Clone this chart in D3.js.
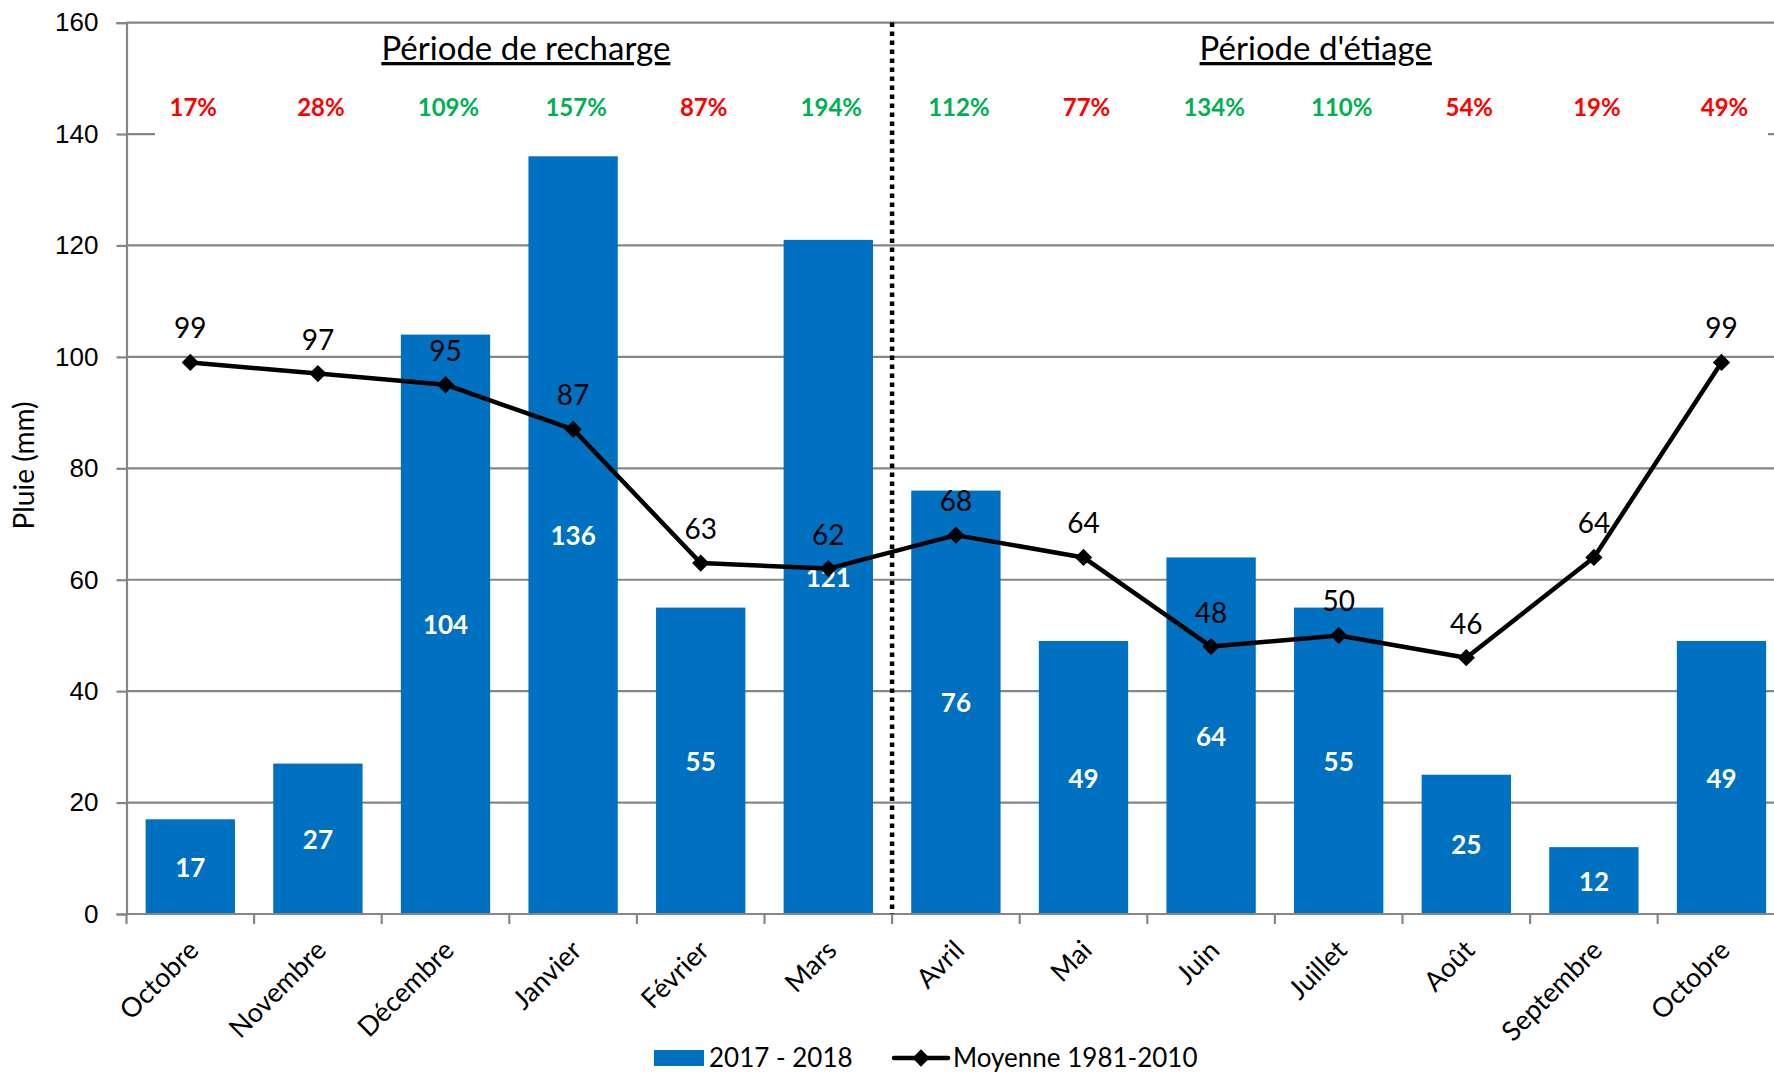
<!DOCTYPE html>
<html>
<head>
<meta charset="utf-8">
<script src="https://cdn.jsdelivr.net/npm/d3@7"></script>
<style>
body{margin:0;background:#fff;overflow:hidden;}
svg{display:block;font-family:Lato,"Open Sans",sans-serif;}
</style>
</head>
<body>
<svg id="chart" width="1774" height="1075"></svg>
<script>
var months = ["Octobre","Novembre","Décembre","Janvier","Février","Mars","Avril","Mai","Juin","Juillet","Août","Septembre","Octobre"];
var rain = [17,27,104,136,55,121,76,49,64,55,25,12,49];
var normal = [99,97,95,87,63,62,68,64,48,50,46,64,99];
var ratio = ["17%","28%","109%","157%","87%","194%","112%","77%","134%","110%","54%","19%","49%"];
var yTicks = [0,20,40,60,80,100,120,140,160];
var periodNames = ["Période de recharge","Période d'étiage"];
var seriesNames = ["2017 - 2018","Moyenne 1981-2010"];

var svg = d3.select("#chart");
var left = 126.5, step = 127.6;
var blue = "#0070C0", grid = "#868686";

var x = d3.scaleBand()
    .domain(d3.range(months.length))
    .range([left, left + months.length * step])
    .paddingInner(0.3)
    .paddingOuter(0.15);
var y = d3.scaleLinear().domain([0, 160]).range([914, 22.6]);
var cx = function(i) { return x(i) + x.bandwidth() / 2; };

// grid lines
svg.append("g").selectAll("line")
    .data(yTicks.filter(function(d) { return d > 0; }))
    .enter().append("line")
    .attr("x1", left).attr("x2", 1800)
    .attr("y1", function(d) { return y(d); })
    .attr("y2", function(d) { return y(d); })
    .attr("stroke", grid).attr("stroke-width", 2.2);

// white box of the percentages hides the 140 line
svg.append("rect")
    .attr("x", 155).attr("y", y(140) - 50)
    .attr("width", 1613).attr("height", 54)
    .attr("fill", "#fff");

// y axis
var yAxis = svg.append("g")
    .attr("transform", "translate(" + left + ",0)")
    .call(d3.axisLeft(y).tickValues(yTicks).tickSize(10).tickPadding(18));
yAxis.select(".domain").attr("stroke", grid).attr("stroke-width", 2.2);
yAxis.selectAll(".tick line").attr("stroke", grid).attr("stroke-width", 2.2);
yAxis.selectAll(".tick text")
    .attr("fill", "#000")
    .style("font-size", "26px");

svg.append("text")
    .attr("transform", "translate(34," + y(80.5) + ") rotate(-90)")
    .attr("text-anchor", "middle")
    .style("font-size", "28px")
    .text("Pluie (mm)");

// bars
svg.append("g").selectAll("rect")
    .data(rain)
    .enter().append("rect")
    .attr("x", function(d, i) { return x(i); })
    .attr("width", x.bandwidth())
    .attr("y", function(d) { return y(d); })
    .attr("height", function(d) { return y(0) - y(d); })
    .attr("fill", blue);

// x axis line and ticks
svg.append("line")
    .attr("x1", left).attr("x2", 1800)
    .attr("y1", y(0)).attr("y2", y(0))
    .attr("stroke", grid).attr("stroke-width", 2.2);
svg.append("g").selectAll("line")
    .data(d3.range(months.length + 1))
    .enter().append("line")
    .attr("x1", function(i) { return left + i * step; })
    .attr("x2", function(i) { return left + i * step; })
    .attr("y1", y(0)).attr("y2", y(0) + 10)
    .attr("stroke", grid).attr("stroke-width", 2.2);

svg.append("g").selectAll("text")
    .data(months)
    .enter().append("text")
    .attr("transform", function(d, i) {
        return "translate(" + (cx(i) + 10) + "," + (y(0) + 38) + ") rotate(-45)";
    })
    .attr("text-anchor", "end")
    .style("font-size", "27px")
    .text(function(d) { return d; });

// separator between the two periods
svg.append("line")
    .attr("x1", left + 6 * step).attr("x2", left + 6 * step)
    .attr("y1", y(160)).attr("y2", y(0))
    .attr("stroke", "#000").attr("stroke-width", 4.5)
    .attr("stroke-dasharray", "4.5,4.5");

// bar labels
svg.append("g").selectAll("text")
    .data(rain)
    .enter().append("text")
    .attr("x", function(d, i) { return cx(i); })
    .attr("y", function(d) { return (y(d) + y(0)) / 2 + 10; })
    .attr("text-anchor", "middle")
    .attr("fill", "#fff")
    .style("font-size", "26px").style("font-weight", "bold")
    .text(function(d) { return d; });

// normal line
var line = d3.line()
    .x(function(d, i) { return cx(i); })
    .y(function(d) { return y(d); });
svg.append("path")
    .datum(normal)
    .attr("d", line)
    .attr("fill", "none")
    .attr("stroke", "#000").attr("stroke-width", 4.5)
    .attr("stroke-linejoin", "round");
var diamond = d3.symbol().type(d3.symbolDiamond2).size(190);
svg.append("g").selectAll("path")
    .data(normal)
    .enter().append("path")
    .attr("d", diamond)
    .attr("transform", function(d, i) { return "translate(" + cx(i) + "," + y(d) + ")"; })
    .attr("fill", "#000");

svg.append("g").selectAll("text")
    .data(normal)
    .enter().append("text")
    .attr("x", function(d, i) { return cx(i); })
    .attr("y", function(d) { return y(d) - 24; })
    .attr("text-anchor", "middle")
    .style("font-size", "28px")
    .text(function(d) { return d; });

// percentages
svg.append("g").selectAll("text")
    .data(ratio)
    .enter().append("text")
    .attr("x", function(d, i) { return cx(i) + 3; })
    .attr("y", y(143.2))
    .attr("text-anchor", "middle")
    .attr("fill", function(d) { return parseInt(d) >= 100 ? "#00B050" : "#FF0000"; })
    .style("font-size", "24px").style("font-weight", "bold")
    .text(function(d) { return d; });

// period titles
svg.append("g").selectAll("text")
    .data(periodNames)
    .enter().append("text")
    .attr("x", function(d, i) { return i === 0 ? left + 3.13 * step : left + 9.32 * step; })
    .attr("y", 60)
    .attr("text-anchor", "middle")
    .style("font-size", "33px")
    .style("text-decoration", "underline")
    .text(function(d) { return d; });

// legend
var lg = svg.append("g").attr("transform", "translate(0,1058)");
lg.append("rect").attr("x", 654).attr("y", -8).attr("width", 50).attr("height", 16).attr("fill", blue);
lg.append("text").attr("x", 709).attr("y", 9).style("font-size", "26px").text(seriesNames[0]);
lg.append("line").attr("x1", 894).attr("x2", 948).attr("y1", 0).attr("y2", 0)
    .attr("stroke", "#000").attr("stroke-width", 4.5).attr("stroke-linecap", "round");
lg.append("path").attr("d", diamond).attr("transform", "translate(921,0)").attr("fill", "#000");
lg.append("text").attr("x", 953).attr("y", 9).style("font-size", "26px").text(seriesNames[1]);
</script>
</body>
</html>
